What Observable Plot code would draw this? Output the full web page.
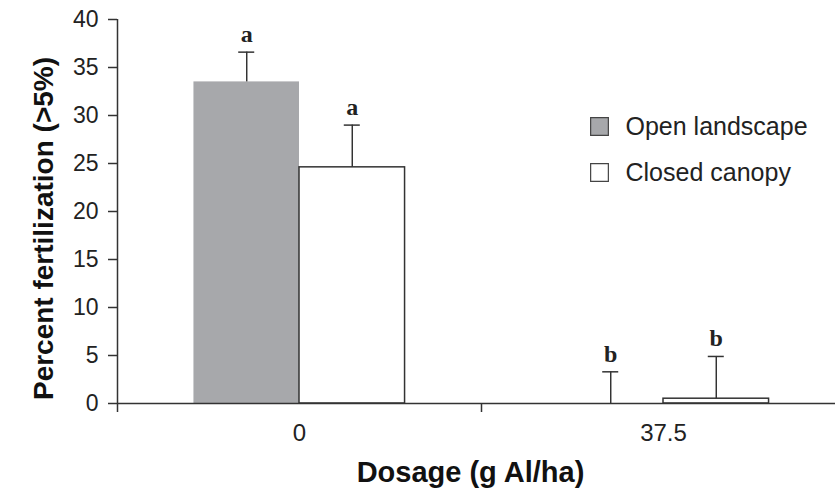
<!DOCTYPE html>
<html>
<head>
<meta charset="utf-8">
<script src="https://cdn.jsdelivr.net/npm/d3@7"></script>
<script src="https://cdn.jsdelivr.net/npm/@observablehq/plot@0.6"></script>
<style>
  html, body { margin: 0; padding: 0; background: #fff; overflow: hidden; }
  #chart svg { display: block; }
</style>
</head>
<body>
<div id="chart"></div>
<script>
// ---- data ----
const dosages = ["0", "37.5"];
const seriesNames = ["Open landscape", "Closed canopy"];
const openMeans = [33.5, 0];
const openUpper = [36.6, 3.3];
const closedMeans = [24.6, 0.5];
const closedUpper = [29.0, 4.9];
const openLetters = ["a", "b"];
const closedLetters = ["a", "b"];
const yTicks = [0, 5, 10, 15, 20, 25, 30, 35, 40];
const xLabel = "Dosage (g Al/ha)";
const yLabel = "Percent fertilization (>5%)";

// ---- layout ----
const W = 835, H = 488;
const barW = 0.29;      // bar width in category units
const capHalf = 0.022;  // half cap width in category units
const ink = "#333";

const rows = [];
dosages.forEach((d, i) => {
  [[openMeans, openUpper, openLetters], [closedMeans, closedUpper, closedLetters]].forEach(([m, u, l], s) => {
    const x1 = i + 0.5 - (s === 0 ? barW : 0);
    rows.push({dose: d, s, series: seriesNames[s], mean: m[i], upper: u[i], letter: l[i],
      x1, x2: x1 + barW, xc: x1 + barW / 2});
  });
});
const openRows = rows.filter(r => r.s === 0);
const closedRows = rows.filter(r => r.s === 1);

const legendMarks = seriesNames.flatMap((name, k) => [
  Plot.dot([name], {frameAnchor: "top-left", dx: 482, dy: 107 + 46 * k, symbol: "square", r: 10,
    fill: k === 0 ? "#a7a8ab" : "white", stroke: "#444", strokeWidth: 1.2}),
  Plot.text([name], {frameAnchor: "top-left", dx: 508, dy: 107 + 46 * k, text: d => d,
    textAnchor: "start", lineAnchor: "middle", fontSize: 25, fill: "#222"})
]);

const chart = Plot.plot({
  width: W,
  height: H,
  marginLeft: 117,
  marginRight: 0,
  marginTop: 19,
  marginBottom: 85,
  style: {fontFamily: "'Liberation Sans', Arial, sans-serif", color: "#222", background: "white"},
  x: {domain: [0, 2], range: [117, 845]},
  y: {domain: [0, 40]},
  marks: [
    Plot.rectY(openRows, {x1: "x1", x2: "x2", y1: 0, y2: "mean", fill: "#a7a8ab"}),
    Plot.rectY(closedRows, {x1: "x1", x2: "x2", y1: 0, y2: "mean", fill: "white", stroke: ink, strokeWidth: 1.5}),
    Plot.ruleX(rows, {x: "xc", y1: "mean", y2: "upper", stroke: ink, strokeWidth: 1.5}),
    Plot.ruleY(rows, {x1: d => d.xc - capHalf, x2: d => d.xc + capHalf, y: "upper", stroke: ink, strokeWidth: 1.5}),
    Plot.text(rows, {x: "xc", y: "upper", text: "letter", dy: -10, lineAnchor: "bottom",
      fontFamily: "'Liberation Serif', 'Times New Roman', serif", fontWeight: "bold", fontSize: 24, fill: "#222"}),
    Plot.ruleX([0], {y1: 0, y2: 40, stroke: ink, strokeWidth: 1.5}),
    Plot.ruleY([0], {stroke: ink, strokeWidth: 1.5}),
    Plot.axisY({ticks: yTicks, tickSize: 9, tickPadding: 10, label: null, fontSize: 23, stroke: ink, strokeWidth: 1.5}),
    Plot.axisX({ticks: [0.5, 1.5], tickSize: 0, tickPadding: 20, label: null, fontSize: 24,
      tickFormat: v => dosages[Math.floor(v)]}),
    Plot.axisX({ticks: [0, 1], tickSize: 9, tickFormat: () => "", label: null, stroke: ink, strokeWidth: 1.5}),
    Plot.text([yLabel], {frameAnchor: "left", dx: -73, dy: 17, rotate: -90, text: d => d,
      fontSize: 28, fontWeight: "bold", fill: "#111", textAnchor: "middle", lineAnchor: "middle"}),
    Plot.text([xLabel], {frameAnchor: "bottom", dx: -6, dy: 69, text: d => d,
      fontSize: 29, fontWeight: "bold", fill: "#111", textAnchor: "middle", lineAnchor: "middle"}),
    ...legendMarks
  ]
});
document.getElementById("chart").appendChild(chart);
</script>
</body>
</html>
